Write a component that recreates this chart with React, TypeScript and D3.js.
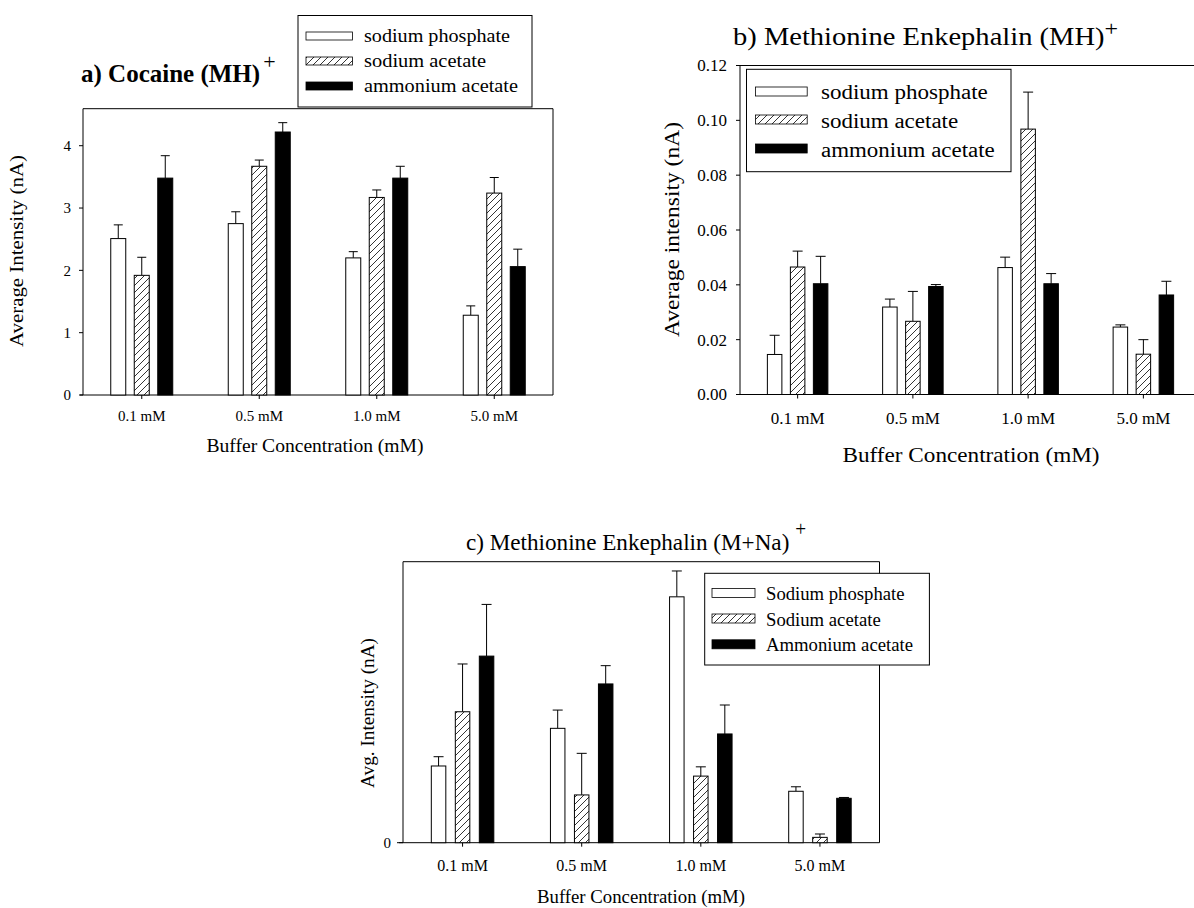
import * as d3 from 'd3';

// categories and series
const categories = ['0.1 mM', '0.5 mM', '1.0 mM', '5.0 mM'];
const seriesLower = ['sodium phosphate', 'sodium acetate', 'ammonium acetate'];
const seriesUpper = ['Sodium phosphate', 'Sodium acetate', 'Ammonium acetate'];

// a) Cocaine (MH)+  -- nA
const cocainePhosphate = [2.51, 2.75, 2.2, 1.28];
const cocainePhosphateErr = [0.22, 0.19, 0.1, 0.15];
const cocaineAcetate = [1.92, 3.67, 3.17, 3.24];
const cocaineAcetateErr = [0.29, 0.1, 0.12, 0.25];
const cocaineAmmonium = [3.48, 4.22, 3.48, 2.06];
const cocaineAmmoniumErr = [0.36, 0.15, 0.19, 0.28];
const cocaineTicks = [0, 1, 2, 3, 4];

// b) Methionine Enkephalin (MH)+  -- nA
const mhPhosphate = [0.0146, 0.0319, 0.0463, 0.0246];
const mhPhosphateErr = [0.007, 0.0029, 0.0038, 0.0008];
const mhAcetate = [0.0465, 0.0267, 0.0968, 0.0147];
const mhAcetateErr = [0.0058, 0.0109, 0.0135, 0.0053];
const mhAmmonium = [0.0404, 0.0394, 0.0404, 0.0363];
const mhAmmoniumErr = [0.01, 0.0007, 0.0037, 0.005];
const mhTicks = [0, 0.02, 0.04, 0.06, 0.08, 0.1, 0.12];

// c) Methionine Enkephalin (M+Na)+  -- no scale printed, relative units
const naPhosphate = [0.273, 0.407, 0.875, 0.183];
const naPhosphateErr = [0.033, 0.065, 0.092, 0.016];
const naAcetate = [0.466, 0.17, 0.237, 0.019];
const naAcetateErr = [0.17, 0.148, 0.033, 0.012];
const naAmmonium = [0.664, 0.565, 0.387, 0.158];
const naAmmoniumErr = [0.184, 0.065, 0.103, 0.003];
const naTicks = [0];

const W = 1194;
const H = 908;
const FONT = '"Liberation Serif", "Times New Roman", serif';
const fills = ['#fff', 'url(#hatch)', '#000'];

function BarPanel({ box, domain, ticks, fmt, means, errs, barW, offset, capW, tickFont, tickRight, catFont, catBaseline, axisStart, open }) {
    const x = d3.scaleBand().domain(categories).range([box.left, box.right]).padding(0);
    const y = d3.scaleLinear().domain(domain).range([box.bottom, box.top]);
    const frameRight = open ? W : box.right;

    return (
        <g>
            {/* frame */}
            <line x1={box.left} x2={box.left} y1={box.top} y2={box.bottom} stroke="#000" />
            <line x1={box.left} x2={frameRight} y1={box.top} y2={box.top} stroke="#000" />
            <line x1={axisStart} x2={frameRight} y1={box.bottom} y2={box.bottom} stroke="#000" />
            {!open && <line x1={box.right} x2={box.right} y1={box.top} y2={box.bottom} stroke="#000" />}

            {/* y ticks */}
            {ticks.map(t => (
                <g key={t}>
                    <line x1={box.left - 4} x2={box.left} y1={y(t)} y2={y(t)} stroke="#000" />
                    <text x={tickRight} y={y(t)} dy="0.35em" textAnchor="end" fontSize={tickFont}>{fmt(t)}</text>
                </g>
            ))}

            {/* x ticks */}
            {categories.map(c => {
                const cx = x(c) + x.bandwidth() / 2;
                return (
                    <g key={c}>
                        <line x1={cx} x2={cx} y1={box.bottom} y2={box.bottom + 4} stroke="#000" />
                        <text x={cx} y={catBaseline} textAnchor="middle" fontSize={catFont}>{c}</text>
                    </g>
                );
            })}

            {/* bars + error bars */}
            {means.map((series, si) => series.map((v, ci) => {
                const cx = x(categories[ci]) + x.bandwidth() / 2 + (si - 1) * offset;
                const top = y(v);
                const eTop = y(v + errs[si][ci]);
                return (
                    <g key={si + '-' + ci}>
                        <line x1={cx} x2={cx} y1={top} y2={eTop} stroke="#000" />
                        <line x1={cx - capW / 2} x2={cx + capW / 2} y1={eTop} y2={eTop} stroke="#000" />
                        <rect x={cx - barW / 2} y={top} width={barW} height={box.bottom - top}
                            fill={fills[si]} stroke="#000" strokeWidth={1} />
                    </g>
                );
            }))}
        </g>
    );
}

function Legend({ box, swatchX, swatchW, swatchH, centers, textX, baselines, fontSize, labels, lengths }) {
    return (
        <g>
            <rect x={box.x} y={box.y} width={box.w} height={box.h} fill="#fff" stroke="#000" />
            {labels.map((l, i) => (
                <g key={l}>
                    <rect x={swatchX} y={centers[i] - swatchH / 2} width={swatchW} height={swatchH}
                        fill={fills[i]} stroke="#000" strokeWidth={0.8} />
                    <text x={textX} y={baselines[i]} fontSize={fontSize}
                        textLength={lengths[i]} lengthAdjust="spacingAndGlyphs">{l}</text>
                </g>
            ))}
        </g>
    );
}

function StretchText({ x, y, size, len, children, rotate, bold, anchor }) {
    return (
        <text x={rotate ? 0 : x} y={rotate ? 0 : y} fontSize={size} fontWeight={bold ? 'bold' : 'normal'}
            textAnchor={anchor || 'start'} textLength={len} lengthAdjust="spacingAndGlyphs"
            transform={rotate ? `translate(${x},${y}) rotate(-90)` : undefined}>{children}</text>
    );
}

export default function App() {
    const f0 = d => String(d);
    const f2 = d3.format('.2f');

    return (
        <svg width={W} height={H} style={{ position: 'absolute', left: 0, top: 0, background: '#fff' }}
            fontFamily={FONT} fill="#000">
            <defs>
                <pattern id="hatch" patternUnits="userSpaceOnUse" width="7" height="7">
                    <rect width="7" height="7" fill="#fff" />
                    <path d="M-1,1 l2,-2 M0,7 l7,-7 M6,8 l2,-2" stroke="#000" strokeWidth="0.8" />
                </pattern>
            </defs>

            {/* a) Cocaine */}
            <BarPanel box={{ left: 83, right: 553, top: 108.7, bottom: 395 }} domain={[0, 4.594]}
                ticks={cocaineTicks} fmt={f0}
                means={[cocainePhosphate, cocaineAcetate, cocaineAmmonium]}
                errs={[cocainePhosphateErr, cocaineAcetateErr, cocaineAmmoniumErr]}
                barW={15} offset={23.5} capW={9} tickFont={15} tickRight={71}
                catFont={15} catBaseline={421} axisStart={80} />
            <text x={81} y={82} fontSize={25} fontWeight="bold">
                a) Cocaine (MH)<tspan dx={3} dy={-13} fontSize={22} fontWeight="normal">+</tspan>
            </text>
            <StretchText x={23} y={251} size={18} len={192} rotate anchor="middle">Average Intensity (nA)</StretchText>
            <StretchText x={315} y={452} size={19} len={217} anchor="middle">Buffer Concentration (mM)</StretchText>
            <Legend box={{ x: 298, y: 15.5, w: 234, h: 91.5 }} swatchX={306} swatchW={46.5} swatchH={8}
                centers={[36, 61, 86]} textX={364} baselines={[42, 67, 92]} fontSize={18}
                labels={seriesLower} lengths={[146, 122, 154]} />

            {/* b) Methionine Enkephalin (MH)+ */}
            <BarPanel box={{ left: 740, right: 1201, top: 65.5, bottom: 394.5 }} domain={[0, 0.12]}
                ticks={mhTicks} fmt={f2}
                means={[mhPhosphate, mhAcetate, mhAmmonium]}
                errs={[mhPhosphateErr, mhAcetateErr, mhAmmoniumErr]}
                barW={14.5} offset={23} capW={10} tickFont={17} tickRight={727}
                catFont={17} catBaseline={424} axisStart={736} open />
            <StretchText x={733} y={45} size={25} len={385}>
                b) Methionine Enkephalin (MH)<tspan dy={-9} fontSize={21}>+</tspan>
            </StretchText>
            <StretchText x={679} y={229.5} size={22} len={215} rotate anchor="middle">Average intensity (nA)</StretchText>
            <StretchText x={971} y={461.7} size={21} len={257} anchor="middle">Buffer Concentration (mM)</StretchText>
            <Legend box={{ x: 746.5, y: 69.3, w: 264.5, h: 102.4 }} swatchX={755.5} swatchW={51.7} swatchH={9}
                centers={[91.5, 119.5, 148.5]} textX={821} baselines={[99.3, 128, 156.7]} fontSize={20}
                labels={seriesLower} lengths={[166.8, 137.2, 173.8]} />

            {/* c) Methionine Enkephalin (M+Na)+ */}
            <BarPanel box={{ left: 403, right: 879.5, top: 561.7, bottom: 842.7 }} domain={[0, 1]}
                ticks={naTicks} fmt={f0}
                means={[naPhosphate, naAcetate, naAmmonium]}
                errs={[naPhosphateErr, naAcetateErr, naAmmoniumErr]}
                barW={14.5} offset={24} capW={10} tickFont={15} tickRight={391}
                catFont={16} catBaseline={870.5} axisStart={397} />
            <StretchText x={466} y={550} size={24} len={340}>
                c) Methionine Enkephalin (M+Na)<tspan dx={6} dy={-14} fontSize={20}>+</tspan>
            </StretchText>
            <StretchText x={374} y={713} size={19} len={150} rotate anchor="middle">Avg. Intensity (nA)</StretchText>
            <StretchText x={641} y={903.3} size={19} len={208} anchor="middle">Buffer Concentration (mM)</StretchText>
            <Legend box={{ x: 704.7, y: 573.3, w: 224.7, h: 91.7 }} swatchX={712} swatchW={43} swatchH={9}
                centers={[593, 618.5, 644.3]} textX={766} baselines={[600, 625.7, 650.7]} fontSize={19}
                labels={seriesUpper} lengths={[138.5, 114.7, 147]} />
        </svg>
    );
}
